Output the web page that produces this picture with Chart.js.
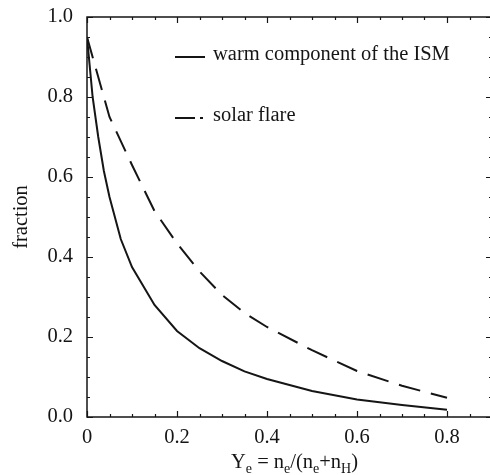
<!DOCTYPE html>
<html>
<head>
<meta charset="utf-8">
<script src="https://cdn.jsdelivr.net/npm/chart.js@4/dist/chart.umd.min.js"></script>
<style>
html,body{margin:0;padding:0;background:#fff;overflow:hidden;}
#wrap{position:relative;width:495px;height:475px;}
</style>
</head>
<body>
<div id="wrap"><canvas id="c" width="495" height="475"></canvas></div>
<script>
// ---- data ----
const ismX = [0, 0.0125, 0.025, 0.0375, 0.05, 0.075, 0.1, 0.15, 0.2, 0.25, 0.3, 0.35, 0.4, 0.5, 0.6, 0.7, 0.8];
const ismY = [0.95, 0.80, 0.70, 0.615, 0.55, 0.445, 0.375, 0.28, 0.215, 0.172, 0.14, 0.114, 0.095, 0.065, 0.044, 0.03, 0.018];
const flareX = [0, 0.025, 0.05, 0.1, 0.15, 0.2, 0.25, 0.3, 0.35, 0.4, 0.5, 0.6, 0.7, 0.8];
const flareY = [0.95, 0.85, 0.75, 0.63, 0.515, 0.434, 0.364, 0.305, 0.26, 0.225, 0.167, 0.115, 0.078, 0.048];
const seriesLabels = ['warm component of the ISM', 'solar flare'];
const xTickValues = [0, 0.2, 0.4, 0.6, 0.8];
const xTickLabels = ['0', '0.2', '0.4', '0.6', '0.8'];
const yTickValues = [0, 0.2, 0.4, 0.6, 0.8, 1.0];
const yTickLabels = ['0.0', '0.2', '0.4', '0.6', '0.8', '1.0'];
const yTitle = 'fraction';
// x title pieces: [text, isSubscript]
const xTitleParts = [['Y', false], ['e', true], [' = n', false], ['e', true], ['/(n', false], ['e', true], ['+n', false], ['H', true], [')', false]];

const INK = '#151515';
const FONT = '"Liberation Serif", "Times New Roman", serif';

const toPts = (xs, ys) => xs.map((x, i) => ({x: x, y: ys[i]}));

const framePlugin = {
  id: 'frame',
  afterDraw(chart) {
    const ctx = chart.ctx;
    const a = chart.chartArea;
    const xs = chart.scales.x, ys = chart.scales.y;
    ctx.save();
    ctx.strokeStyle = INK;
    ctx.lineWidth = 1.5;
    ctx.strokeRect(a.left, a.top, a.right - a.left, a.bottom - a.top);
    ctx.lineWidth = 1.2;
    // x ticks (bottom and top)
    for (let i = 0; i <= 18; i++) {
      const v = i * 0.05;
      const px = Math.round(xs.getPixelForValue(v)) + 0.5;
      const major = (i % 4 === 0);
      const len = major ? 6 : 3;
      ctx.beginPath();
      ctx.moveTo(px, a.bottom); ctx.lineTo(px, a.bottom - len);
      ctx.moveTo(px, a.top); ctx.lineTo(px, a.top + len);
      ctx.stroke();
    }
    // y ticks (left and right)
    for (let i = 0; i <= 20; i++) {
      const v = i * 0.05;
      const py = Math.round(ys.getPixelForValue(v)) + 0.5;
      const major = (i % 4 === 0);
      const len = major ? 6 : 3;
      ctx.beginPath();
      ctx.moveTo(a.left, py); ctx.lineTo(a.left + len, py);
      ctx.moveTo(a.right, py); ctx.lineTo(a.right - len, py);
      ctx.stroke();
    }
    // legend
    ctx.fillStyle = INK;
    ctx.font = '20.5px ' + FONT;
    ctx.textBaseline = 'middle';
    ctx.textAlign = 'left';
    ctx.lineWidth = 2;
    // solid sample
    ctx.beginPath();
    ctx.moveTo(175, 57); ctx.lineTo(205, 57);
    ctx.stroke();
    ctx.fillText(chart.data.datasets[0].label, 213, 55);
    // dashed sample
    ctx.beginPath();
    ctx.moveTo(175, 118); ctx.lineTo(195, 118);
    ctx.moveTo(200, 118); ctx.lineTo(203, 118);
    ctx.stroke();
    ctx.fillText(chart.data.datasets[1].label, 213, 116);
    // x title with subscripts
    const mainF = '20.5px ' + FONT, subF = '14px ' + FONT;
    let w = 0;
    xTitleParts.forEach(p => { ctx.font = p[1] ? subF : mainF; w += ctx.measureText(p[0]).width; });
    let x = (a.left + a.right) / 2 + 5 - w / 2;
    const base = 468;
    ctx.textBaseline = 'alphabetic';
    xTitleParts.forEach(p => {
      ctx.font = p[1] ? subF : mainF;
      ctx.fillText(p[0], x, p[1] ? base + 5 : base);
      x += ctx.measureText(p[0]).width;
    });
    ctx.restore();
  }
};

new Chart(document.getElementById('c'), {
  type: 'line',
  data: {
    datasets: [
      {label: seriesLabels[0], data: toPts(ismX, ismY), borderColor: INK, borderWidth: 2, pointRadius: 0, tension: 0, fill: false},
      {label: seriesLabels[1], data: toPts(flareX, flareY), borderColor: INK, borderWidth: 2, borderDash: [22, 11], pointRadius: 0, tension: 0, fill: false}
    ]
  },
  options: {
    responsive: false,
    animation: false,
    devicePixelRatio: 1,
    layout: {padding: {left: 0, top: 17, right: 3, bottom: 0}},
    plugins: {legend: {display: false}, tooltip: {enabled: false}},
    scales: {
      x: {
        type: 'linear', min: 0, max: 0.9,
        grid: {display: false, drawTicks: false},
        border: {display: false},
        afterBuildTicks: s => { s.ticks = xTickValues.map(v => ({value: v})); },
        afterFit: s => { s.height = 58; s.paddingLeft = 0; s.paddingRight = 0; },
        ticks: {
          padding: 8, color: INK, maxRotation: 0, autoSkip: false,
          font: {family: FONT, size: 20.5},
          callback: (v) => { const i = xTickValues.indexOf(v); return i >= 0 ? xTickLabels[i] : ''; }
        }
      },
      y: {
        type: 'linear', min: 0, max: 1,
        grid: {display: false, drawTicks: false},
        border: {display: false},
        afterBuildTicks: s => { s.ticks = yTickValues.map(v => ({value: v})); },
        afterFit: s => { s.width = 87; s.paddingTop = 0; s.paddingBottom = 0; },
        ticks: {
          padding: 14, color: INK, autoSkip: false,
          font: {family: FONT, size: 20.5},
          callback: (v) => { const i = yTickValues.findIndex(t => Math.abs(t - v) < 1e-9); return i >= 0 ? yTickLabels[i] : ''; }
        },
        title: {display: true, text: yTitle, color: INK, font: {family: FONT, size: 20.5}, padding: {top: 9, bottom: 0}}
      }
    }
  },
  plugins: [framePlugin]
});
</script>
</body>
</html>
